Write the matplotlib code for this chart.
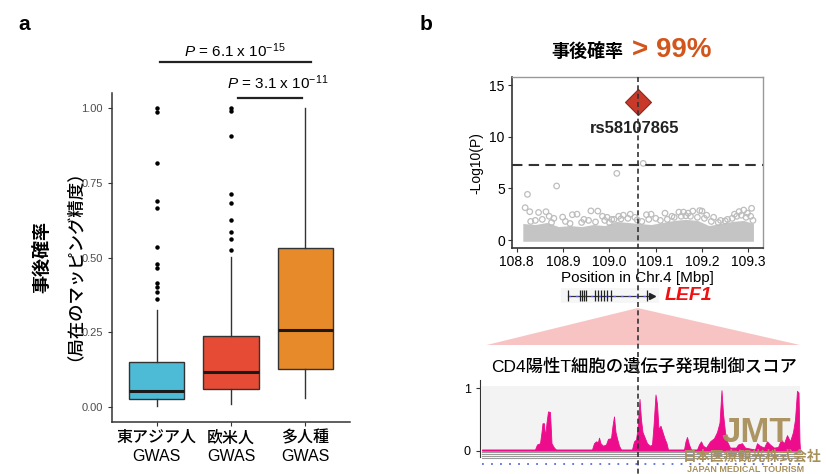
import numpy as np
import matplotlib
matplotlib.use("Agg")
import matplotlib.pyplot as plt
from matplotlib.patches import Polygon
from matplotlib.lines import Line2D

plt.rcParams['font.family'] = ['Liberation Sans', 'Noto Sans CJK JP', 'DejaVu Sans']
plt.rcParams['mathtext.fontset'] = 'custom'
plt.rcParams['mathtext.rm'] = 'Liberation Sans'
plt.rcParams['mathtext.it'] = 'Liberation Sans:italic'

# ---- panel a: posterior probability per GWAS ----
groups = ["東アジア人\nGWAS", "欧米人\nGWAS", "多人種\nGWAS"]
box_colors = ["#4DBBD5", "#E64B35", "#E68A2A"]
whislo = [0.004, 0.011, 0.030]
q1 = [0.027, 0.060, 0.128]
med = [0.055, 0.119, 0.258]
q3 = [0.150, 0.238, 0.531]
whishi = [0.325, 0.501, 0.999]
fliers_eas = [0.361, 0.385, 0.403, 0.414, 0.464, 0.478, 0.537, 0.667, 0.689, 0.815, 0.988, 1.0]
fliers_eur = [0.525, 0.561, 0.587, 0.626, 0.682, 0.712, 0.907, 0.990, 1.0]
fliers_multi = []
p_labels = [r"$P$ = 6.1 x 10$^{-15}$", r"$P$ = 3.1 x 10$^{-11}$"]

# ---- panel b: locus plot ----
lead_pos = 109.061
lead_logp = 13.4
lead_name = "rs58107865"
gw_line = 7.3
band_x = [108.813, 108.84, 108.865, 108.89, 108.915, 108.94, 108.965, 108.99, 109.015, 109.04,
          109.065, 109.09, 109.115, 109.14, 109.165, 109.19, 109.215, 109.24, 109.265, 109.29, 109.311]
band_top = [1.6, 1.5, 1.7, 1.3, 1.4, 1.3, 1.5, 1.4, 1.8, 1.7,
            1.6, 1.5, 1.7, 1.9, 2.0, 1.9, 1.4, 1.6, 1.8, 1.9, 1.6]
snp_x = [108.818, 108.823, 108.886, 109.016, 109.073, 109.307, 108.828, 108.847, 108.863, 108.870,
         108.880, 108.899, 108.920, 108.930, 108.945, 108.960, 108.975, 108.985, 108.995, 109.005,
         109.020, 109.030, 109.045, 109.055, 109.080, 109.090, 109.100, 109.120, 109.135, 109.150,
         109.160, 109.170, 109.180, 109.195, 109.200, 109.210, 109.225, 109.240, 109.255, 109.270,
         109.280, 109.290, 109.298, 109.305,
         108.830, 108.840, 108.855, 108.875, 108.905, 108.915, 108.940, 108.955, 108.970, 108.990,
         109.000, 109.010, 109.025, 109.040, 109.060, 109.070, 109.085, 109.110, 109.125, 109.140,
         109.155, 109.165, 109.175, 109.190, 109.205, 109.220, 109.235, 109.250, 109.265, 109.275,
         109.285, 109.295, 109.310]
snp_logp = [3.13, 4.42, 5.23, 6.45, 7.42, 3.07, 2.74, 2.67, 2.74, 2.30,
            2.10, 2.22, 2.45, 2.50, 2.00, 2.82, 2.80, 2.30, 2.20, 2.00,
            2.30, 2.40, 2.50, 2.20, 2.45, 2.50, 2.10, 2.60, 2.30, 2.70,
            2.70, 2.60, 2.80, 2.85, 2.80, 2.40, 2.20, 1.90, 2.00, 2.50,
            2.75, 2.90, 2.60, 2.30,
            1.80, 1.90, 2.00, 1.70, 1.80, 1.60, 1.70, 1.90, 1.75, 1.90,
            1.70, 2.00, 2.05, 2.10, 1.95, 1.80, 2.00, 1.90, 2.00, 2.20,
            2.30, 2.35, 2.30, 2.20, 2.10, 1.80, 1.70, 1.85, 2.10, 2.30,
            2.40, 2.20, 1.90]
locus_ticks = [108.8, 108.9, 109.0, 109.1, 109.2, 109.3]

# gene LEF1
gene_start, gene_end = 108.911, 109.091
exons = [108.911, 108.937, 108.941, 108.946, 108.950, 108.969, 108.976, 108.982,
         108.989, 108.995, 109.004, 109.082]

# regulatory score track (position in kb from window start)
sig_pos = [2, 55, 57, 60, 61.5, 62.5, 64, 65, 66.5, 68, 70, 71.5, 74, 76,
           112, 114, 116, 118, 119, 120.5, 123, 126, 128, 131, 132.5, 134, 135.5, 137, 139, 141,
           152, 154, 156, 157.5, 159.5, 161, 162.5, 165, 167, 170, 172, 173.5, 175.5, 177, 178.5,
           180.5, 182.5, 184.5, 186.5, 188,
           204, 205.5, 207, 209, 211, 217, 219, 221, 223, 226, 230, 234, 237, 239.5, 241.5, 243,
           245, 247, 250, 256, 258, 262, 265, 275, 277, 280, 284, 287, 290, 294, 298, 301, 304,
           307, 310, 313, 315, 317, 318.5, 319.5, 320]
sig_val = [0.02, 0.02, 0.10, 0.12, 0.30, 0.44, 0.44, 0.22, 0.45, 0.63, 0.62, 0.12, 0.05, 0.02,
           0.02, 0.12, 0.15, 0.14, 0.21, 0.12, 0.08, 0.10, 0.19, 0.20, 0.40, 0.55, 0.30, 0.20, 0.08, 0.02,
           0.02, 0.15, 0.18, 0.35, 0.83, 0.50, 0.30, 0.20, 0.12, 0.08, 0.10, 0.40, 0.90, 0.75, 0.35,
           0.40, 0.30, 0.20, 0.12, 0.02,
           0.02, 0.15, 0.22, 0.10, 0.02, 0.02, 0.10, 0.15, 0.08, 0.05, 0.15, 0.20, 0.30, 0.45, 0.97, 0.60,
           0.30, 0.15, 0.05, 0.05, 0.10, 0.12, 0.05, 0.02, 0.12, 0.08, 0.05, 0.15, 0.10, 0.05, 0.06, 0.18, 0.12,
           0.25, 0.15, 0.30, 0.50, 0.96, 0.93, 0.15, 0.02]
track_len = 322

W, H = 826, 474
fig = plt.figure(figsize=(W / 100, H / 100), dpi=100)


def box(l, t, r, b):
    return [l / W, 1 - b / H, (r - l) / W, (b - t) / H]


# ================= panel a =================
ax = fig.add_axes(box(112, 93, 350, 421.7))
stats = []
for i, fl in enumerate([fliers_eas, fliers_eur, fliers_multi]):
    stats.append(dict(whislo=whislo[i], q1=q1[i], med=med[i], q3=q3[i], whishi=whishi[i], fliers=fl))
bp = ax.bxp(stats, positions=[1, 2, 3], widths=0.74, patch_artist=True, showcaps=False,
            boxprops=dict(edgecolor="#333333", linewidth=1.0),
            whiskerprops=dict(color="#333333", linewidth=1.0),
            medianprops=dict(color="#1a1a1a", linewidth=2.2),
            flierprops=dict(marker="o", markersize=2.2, markerfacecolor="black",
                            markeredgecolor="black", linestyle="none"))
for patch, c in zip(bp["boxes"], box_colors):
    patch.set_facecolor(c)

ax.set_xlim(0.4, 3.6)
ax.set_ylim(-0.048, 1.05)
ax.set_yticks([0, 0.25, 0.5, 0.75, 1.0])
ax.set_yticklabels(["0.00", "0.25", "0.50", "0.75", "1.00"])
ax.set_xticks([1, 2, 3])
ax.set_xticklabels(groups, fontsize=11.5, linespacing=1.3, fontweight="medium")
ax.tick_params(axis="y", labelsize=8, labelcolor="#4D4D4D", color="#333333", length=3)
ax.tick_params(axis="x", color="#333333", length=3, pad=3)
for s in ["top", "right"]:
    ax.spines[s].set_visible(False)
for s in ["left", "bottom"]:
    ax.spines[s].set_color("#333333")
    ax.spines[s].set_linewidth(1.1)

# significance brackets
ax.plot([1.04, 3.07], [1.154, 1.154], color="#222222", lw=1.6, clip_on=False)
ax.text(2.05, 1.19, p_labels[0], ha="center", va="center", fontsize=11, clip_on=False)
ax.plot([2.1, 2.96], [1.034, 1.034], color="#222222", lw=1.6, clip_on=False)
ax.text(2.63, 1.083, p_labels[1], ha="center", va="center", fontsize=11, clip_on=False)

fig.text(42 / W, 1 - 257 / H, "事後確率", rotation=90, ha="center", va="center",
         fontsize=13, fontweight="bold")
fig.text(65 / W, 1 - 257 / H, "（局在のマッピング精度）", rotation=90, ha="center", va="center",
         fontsize=12.5, fontweight="medium")

fig.text(24 / W, 1 - 24 / H, "a", fontsize=15, fontweight="bold", ha="center", va="center")
fig.text(426 / W, 1 - 24 / H, "b", fontsize=15, fontweight="bold", ha="center", va="center")

# ================= panel b: locus =================
axl = fig.add_axes(box(511.7, 77.3, 762.7, 248.3))
axl.fill_between(band_x, -0.12, band_top, color="#C4C4C4", linewidth=0)
axl.scatter(snp_x, snp_logp, s=16, facecolors="none", edgecolors="#BDBDBD", linewidths=0.9)
axl.axhline(gw_line, color="#333333", lw=1.5, linestyle=(0, (5, 3)))
axl.plot([lead_pos], [lead_logp], marker="D", markersize=13, color="#C8392A",
         markeredgecolor="#8E2A1C", markeredgewidth=0.8, zorder=5)
axl.text(lead_pos - 0.006, 10.8, lead_name, ha="center", va="center", fontsize=12,
         fontweight="bold", color="#222222")
axl.set_xlim(108.789, 109.331)
axl.set_ylim(-0.8, 15.75)
axl.set_xticks(locus_ticks)
axl.set_xticklabels([f"{t:.1f}" for t in locus_ticks])
axl.set_yticks([0, 5, 10, 15])
axl.tick_params(labelsize=10, color="#333333", length=3, pad=2)
axl.set_xlabel("Position in Chr.4 [Mbp]", fontsize=11, labelpad=1)
axl.set_ylabel("-Log10(P)", fontsize=10, labelpad=4)
for s in ["top", "right"]:
    axl.spines[s].set_color("#999999")
    axl.spines[s].set_linewidth(1.0)
for s in ["left", "bottom"]:
    axl.spines[s].set_color("#333333")
    axl.spines[s].set_linewidth(1.2)

fig.text(587 / W, 1 - 52 / H, "事後確率", ha="center", va="center", fontsize=13,
         fontweight="bold")
fig.text(632 / W, 1 - 50 / H, "> 99%", ha="left", va="center", fontsize=20,
         fontweight="bold", color="#D2561C")

# ================= gene track =================
axg = fig.add_axes(box(511.7, 288, 762.7, 303))
axg.set_xlim(108.789, 109.331)
axg.set_ylim(-1, 1)
axg.axis("off")
axg.axvspan(108.895, 109.105, color="#F6F6F6", zorder=0)
axg.plot([gene_start, gene_end], [0, 0], color="#333333", lw=0.9)
axg.plot([gene_start, gene_end], [0, 0], color="#5A5AE0", lw=0.9, linestyle=(0, (2, 4)))
axg.vlines(exons, -0.7, 0.7, color="#222222", lw=0.9)
axg.plot([gene_end], [0], marker=">", markersize=4, color="#222222")
axg.text(109.12, 0, "LEF1", fontsize=14, fontstyle="italic", fontweight="bold",
         color="#F01010", ha="left", va="center")

# ================= regulatory score track =================
axt = fig.add_axes(box(480, 380, 480 + track_len, 470))
axt.set_xlim(0, track_len)
axt.set_ylim(-0.309, 1.133)
axt.fill_between([2, 320], 0, 1.03, color="#F3F3F3", linewidth=0)
for yy in [-0.02, -0.05, -0.08, -0.11]:
    axt.plot([2, 320], [yy, yy], color="#9A9A9A", lw=0.8)
axt.plot([2, 320], [-0.213, -0.213], color="#5B6BE0", lw=1.3, linestyle=(0, (1, 4)))
axt.fill_between(sig_pos, 0, sig_val, color="#EC0C8C", linewidth=0.6, edgecolor="#EC0C8C")
axt.set_yticks([0, 1])
axt.set_xticks([])
axt.tick_params(axis="y", labelsize=9, color="#333333", length=3)
for s in ["top", "right", "bottom"]:
    axt.spines[s].set_visible(False)
axt.spines["left"].set_bounds(-0.096, 1.133)
axt.spines["left"].set_color("#333333")
axt.set_title("CD4陽性T細胞の遺伝子発現制御スコア", fontsize=12.5, pad=6, x=0.51,
              fontweight="medium")

# pink zoom triangle from the lead SNP down to the track
fig.canvas.draw()
lead_fig_x = fig.transFigure.inverted().transform(axl.transData.transform((lead_pos, 0)))[0]
x_l = fig.transFigure.inverted().transform(axt.transData.transform((6.7, 0)))[0]
x_r = fig.transFigure.inverted().transform(axt.transData.transform((320, 0)))[0]
tri = Polygon([[lead_fig_x, 1 - 308 / H], [x_l, 1 - 345 / H], [x_r, 1 - 345 / H]],
              closed=True, transform=fig.transFigure, facecolor="#F7B9B9", edgecolor="none",
              alpha=0.85)
fig.patches.append(tri)

# dotted guide through all of panel b
fig.lines.append(Line2D([lead_fig_x, lead_fig_x], [1 - 77.3 / H, 0], transform=fig.transFigure,
                        color="#333333", lw=1.2, linestyle=(0, (3, 2)), zorder=10))

# watermark
fig.text(756 / W, 1 - 433 / H, "JMT", fontsize=25, fontweight="heavy", color="#A8905A",
         ha="center", va="center", alpha=0.95)
fig.text(752 / W, 1 - 457 / H, "日本医療観光株式会社", fontsize=10, color="#A8905A",
         ha="center", va="center", fontweight="bold")
fig.text(746 / W, 1 - 469 / H, "JAPAN MEDICAL TOURISM", fontsize=6.5, color="#A8905A",
         ha="center", va="center", fontweight="bold")

fig.savefig("out.png", dpi=100)
